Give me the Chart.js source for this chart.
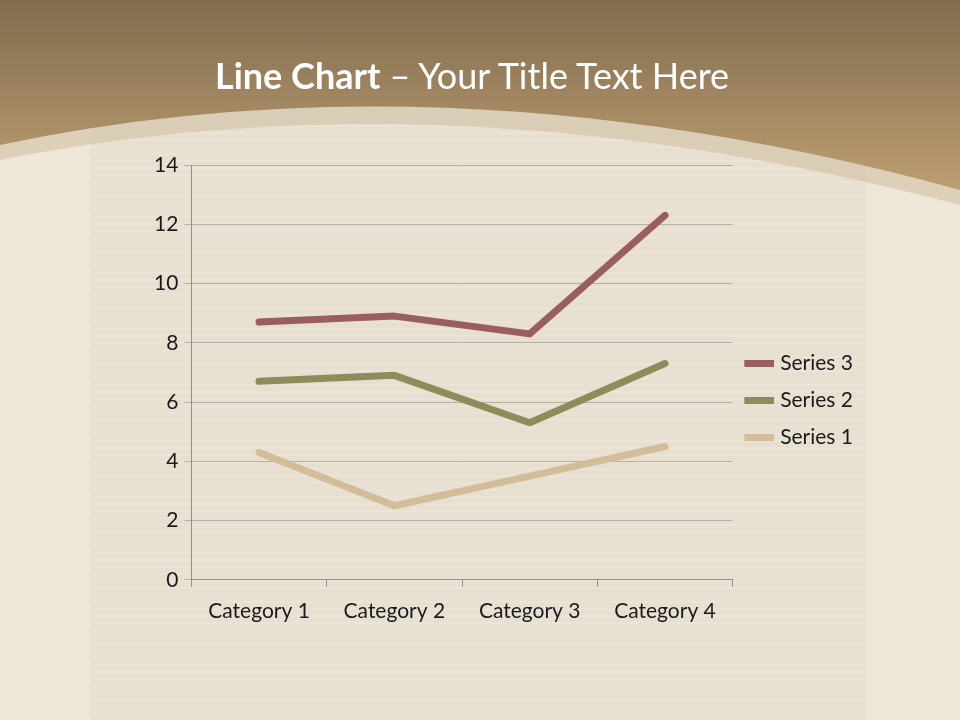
<!DOCTYPE html>
<html>
<head>
<meta charset="utf-8">
<script src="https://cdn.jsdelivr.net/npm/chart.js@4/dist/chart.umd.min.js"></script>
<style>
  html, body { margin: 0; padding: 0; }
  body { width: 960px; height: 720px; position: relative; overflow: hidden; }
  #wrap { position: absolute; left: 0; top: 0; width: 960px; height: 720px; }
  #title {
    position: absolute; left: 0; top: 53px; width: 944px; text-align: center;
    font-family: Lato, "Open Sans", sans-serif; font-size: 36px; color: #fff;
  }
  #title b { font-weight: 700; }
  #title span { font-weight: 400; }
</style>
</head>
<body>
<div id="wrap"><canvas id="chart" width="960" height="720"></canvas></div>
<div id="title"><b>Line Chart</b><span> – Your Title Text Here</span></div>
<script>
// values as entered in the sheet; the chart stacks them
const categories = ['Category 1', 'Category 2', 'Category 3', 'Category 4'];
const series1 = [4.3, 2.5, 3.5, 4.5];
const series2 = [2.4, 4.4, 1.8, 2.8];
const series3 = [2, 2, 3, 5];
const yTicks = [0, 2, 4, 6, 8, 10, 12, 14];

const bgPlugin = {
    id: 'slideBg',
    beforeDraw(chart) {
        const c = chart.ctx;
        c.save();
        // wood side panels + fabric middle
        c.fillStyle = '#eee6d7';
        c.fillRect(0, 0, 960, 720);
        c.fillStyle = '#e7dfd0';
        c.fillRect(90, 0, 776, 720);
        c.strokeStyle = 'rgba(255,255,255,0.25)';
        c.lineWidth = 1;
        for (let y = 0; y < 720; y += 7) {
            c.beginPath();
            c.moveTo(90, y);
            c.lineTo(866, y);
            c.stroke();
        }
        // lighter arc band
        c.beginPath();
        c.moveTo(0, 0);
        c.lineTo(960, 0);
        c.lineTo(960, 205);
        c.quadraticCurveTo(450, 70, 0, 160);
        c.closePath();
        c.fillStyle = 'rgba(206,190,160,0.55)';
        c.fill();
        // brown header
        const g = c.createLinearGradient(0, 0, 0, 190);
        g.addColorStop(0, '#816c4e');
        g.addColorStop(1, '#bd9e72');
        c.beginPath();
        c.moveTo(0, 0);
        c.lineTo(960, 0);
        c.lineTo(960, 190);
        c.quadraticCurveTo(450, 50, 0, 145);
        c.closePath();
        c.fillStyle = g;
        c.fill();
        c.restore();
    }
};

const seriesColors = ['#d3bc9a', '#8f8c5b', '#9a5f5d'];
const tickFont = { family: 'Lato, "Open Sans", sans-serif', size: 21 };

new Chart(document.getElementById('chart'), {
    type: 'line',
    data: {
        labels: categories,
        datasets: [
            { label: 'Series 1', data: series1, borderColor: seriesColors[0], backgroundColor: seriesColors[0] },
            { label: 'Series 2', data: series2, borderColor: seriesColors[1], backgroundColor: seriesColors[1] },
            { label: 'Series 3', data: series3, borderColor: seriesColors[2], backgroundColor: seriesColors[2] }
        ].map(d => Object.assign(d, {
            fill: false,
            borderWidth: 7,
            pointRadius: 0,
            tension: 0,
            borderCapStyle: 'round',
            borderJoinStyle: 'round'
        }))
    },
    options: {
        responsive: false,
        animation: false,
        layout: { padding: { left: 148, top: 165, right: 97, bottom: 84 } },
        scales: {
            x: {
                stacked: true,
                offset: true,
                grid: { offset: true, drawOnChartArea: false, tickLength: 7, color: '#8f8f8f' },
                border: { color: '#8f8f8f' },
                ticks: { color: '#1a1a1a', font: tickFont, padding: 12 }
            },
            y: {
                stacked: true,
                min: 0,
                max: 14,
                afterBuildTicks: axis => { axis.ticks = yTicks.map(v => ({ value: v })); },
                grid: { color: '#b3b0a8', tickLength: 7 },
                border: { color: '#8f8f8f' },
                ticks: { color: '#1a1a1a', font: tickFont, padding: 6 }
            }
        },
        plugins: {
            legend: {
                position: 'right',
                reverse: true,
                labels: {
                    usePointStyle: true,
                    pointStyle: 'line',
                    boxWidth: 30,
                    padding: 16,
                    color: '#1a1a1a',
                    font: tickFont
                }
            },
            tooltip: { enabled: false }
        }
    },
    plugins: [bgPlugin]
});
</script>
</body>
</html>
